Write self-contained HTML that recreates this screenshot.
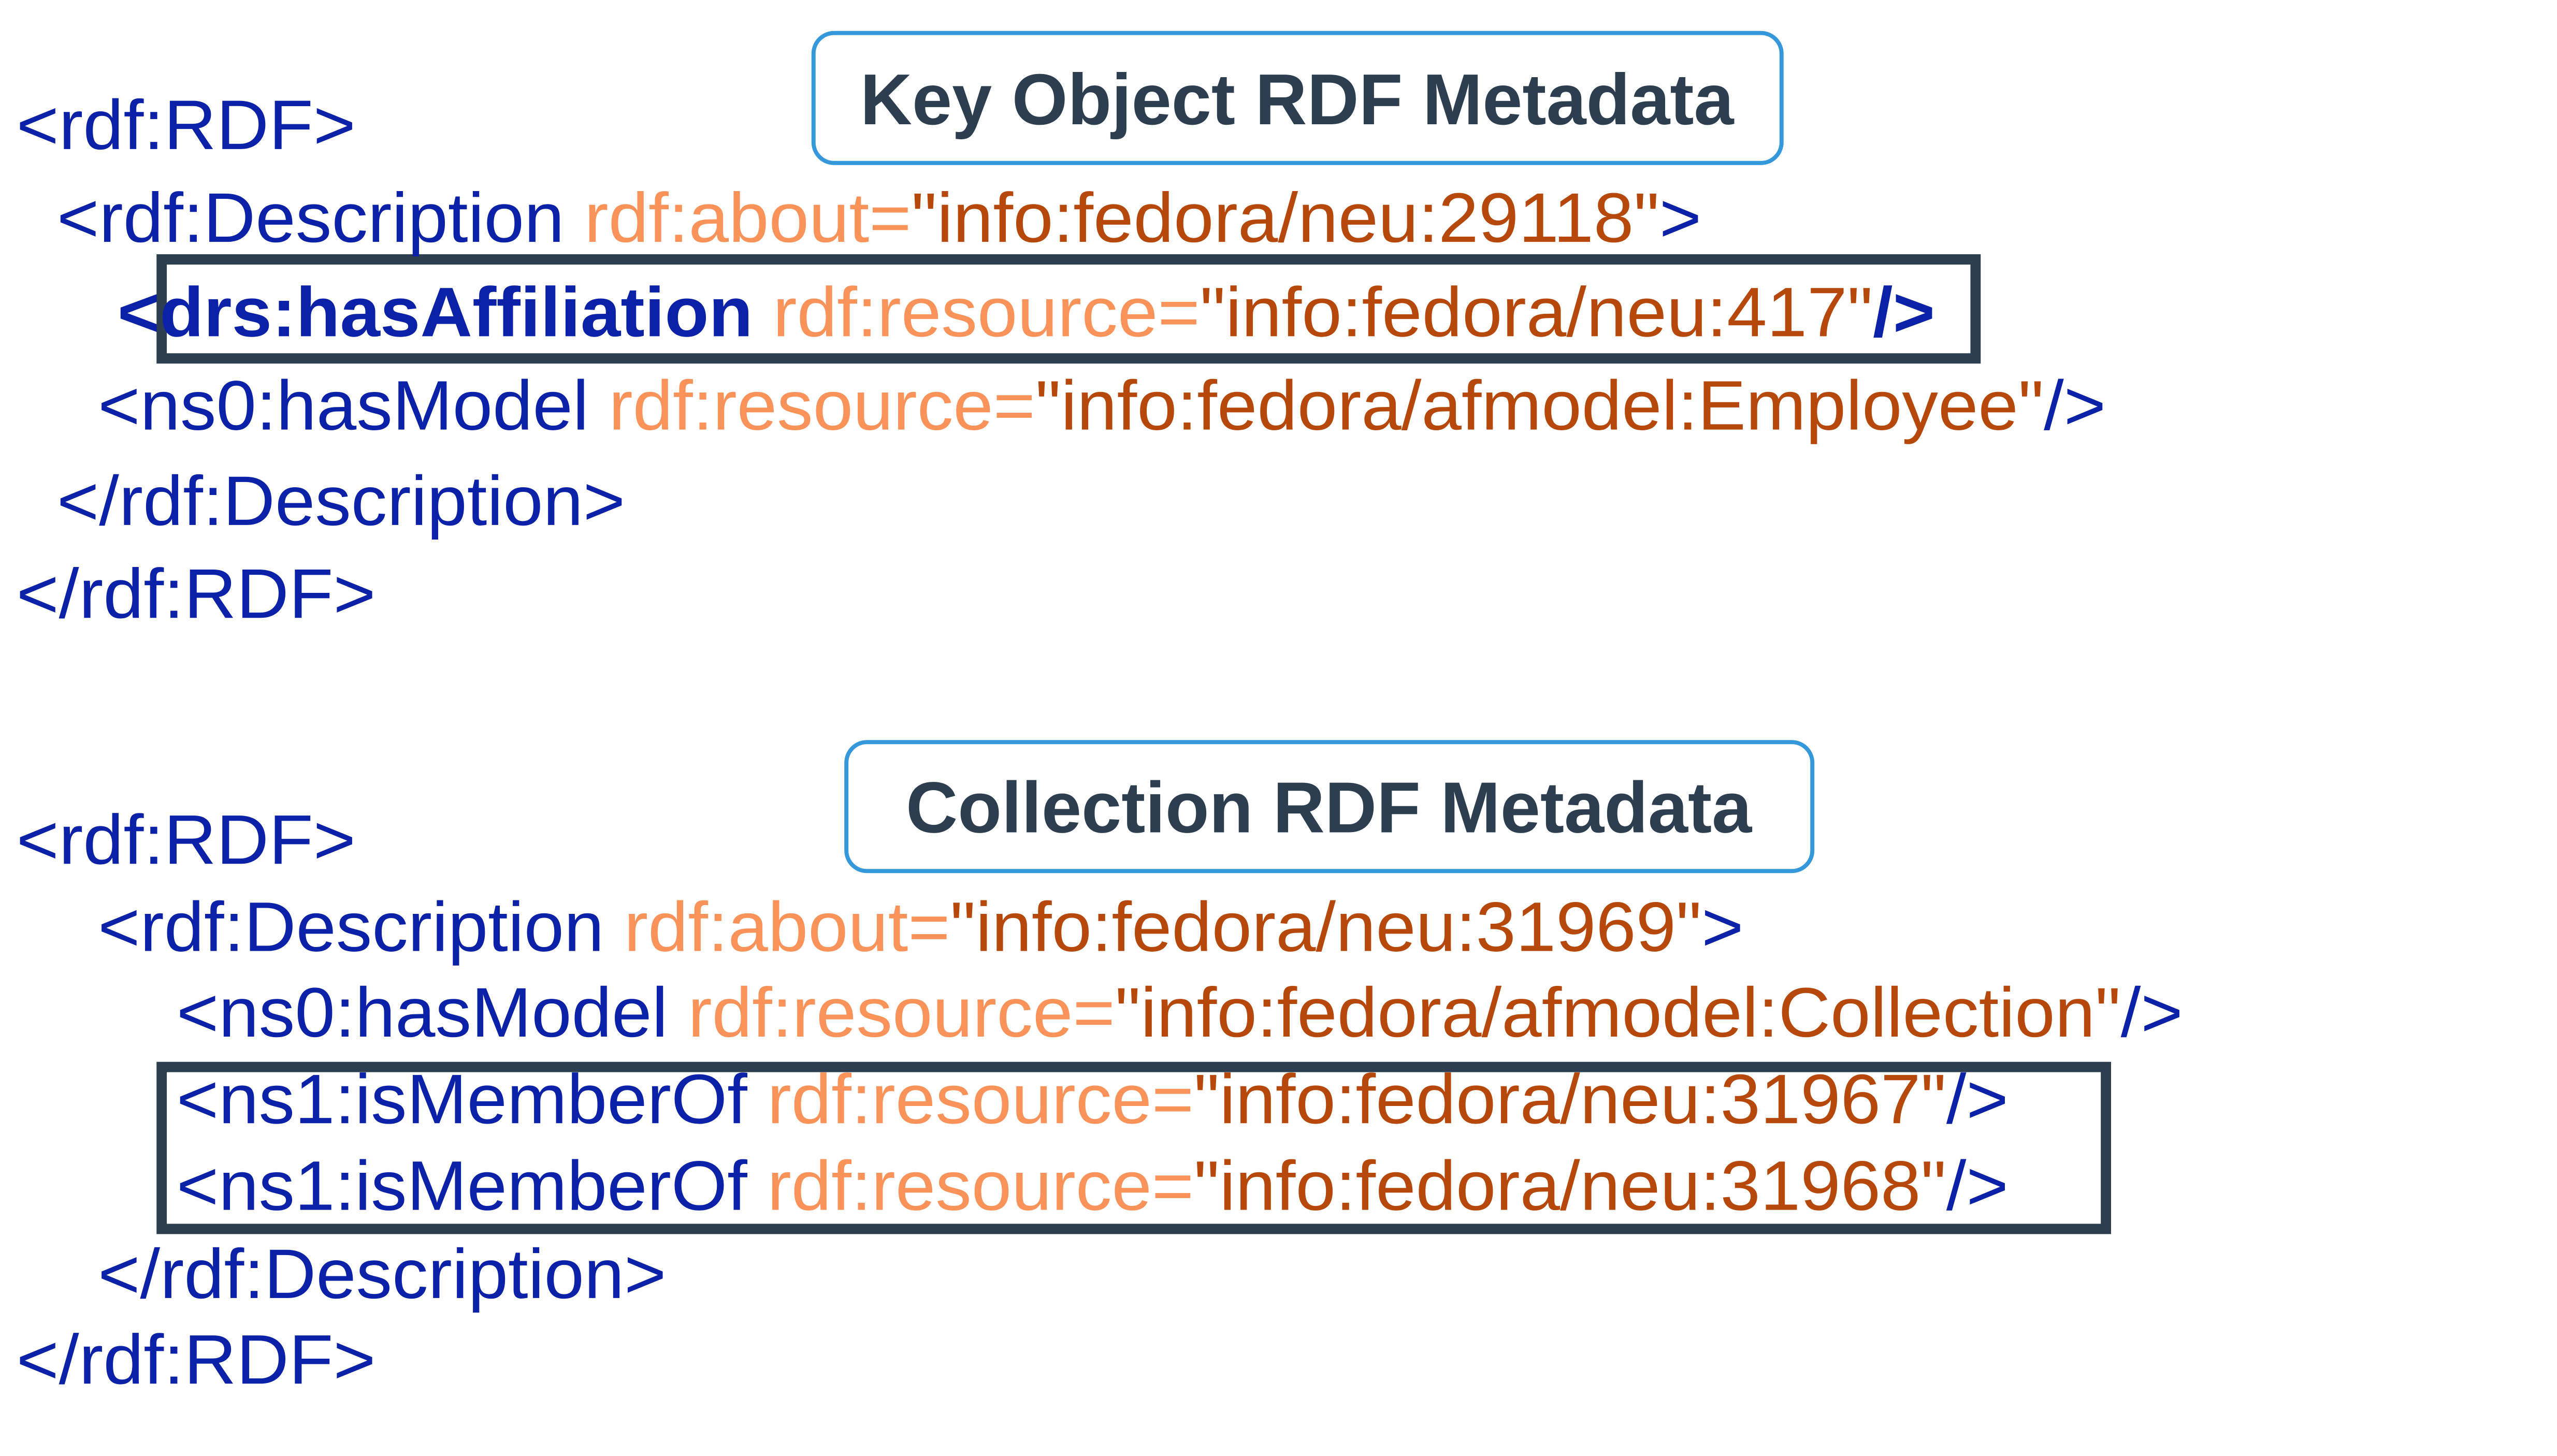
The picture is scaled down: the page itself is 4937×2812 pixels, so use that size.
<!DOCTYPE html>
<html><head><meta charset="utf-8"><style>
html,body{margin:0;padding:0;background:#fff;}
svg{display:block;}
text{font-family:"Liberation Sans",Arial,sans-serif;font-size:136px;}
.b{fill:#0b22a8}.o{fill:#f9935a}.r{fill:#b5480a}
.t{fill:#2c3e50;font-weight:bold;font-size:140px}
</style></head><body>
<svg width="4937" height="2812" viewBox="0 0 4937 2812" xmlns="http://www.w3.org/2000/svg">
<rect x="0" y="0" width="4937" height="2812" fill="#fff"/>
<g transform="scale(0.991,0.996)">
<rect x="1585" y="64" width="1886" height="252" rx="40" fill="#fff" stroke="#3498db" stroke-width="8"/>
<text class="t" x="1676" y="241" textLength="1702" lengthAdjust="spacingAndGlyphs">Key Object RDF Metadata</text>
<rect x="1649" y="1439" width="1882" height="250" rx="40" fill="#fff" stroke="#3498db" stroke-width="8"/>
<text class="t" x="1765" y="1614" textLength="1648" lengthAdjust="spacingAndGlyphs">Collection RDF Metadata</text>
<rect x="315" y="503" width="3534" height="192" fill="none" stroke="#2c3e50" stroke-width="20"/>
<rect x="315" y="2069" width="3788" height="314" fill="none" stroke="#2c3e50" stroke-width="20"/>
<text x="32" y="289" textLength="661" lengthAdjust="spacingAndGlyphs"><tspan class="b">&lt;rdf:RDF&gt;</tspan></text>
<text x="111" y="469" textLength="3204" lengthAdjust="spacingAndGlyphs"><tspan class="b">&lt;rdf:Description </tspan><tspan class="o">rdf:about=</tspan><tspan class="r">"info:fedora/neu:29118"</tspan><tspan class="b">&gt;</tspan></text>
<text x="229" y="652" textLength="3541" lengthAdjust="spacingAndGlyphs"><tspan class="b" font-weight="bold">&lt;drs:hasAffiliation </tspan><tspan class="o">rdf:resource=</tspan><tspan class="r">"info:fedora/neu:417"</tspan><tspan class="b" font-weight="bold">/&gt;</tspan></text>
<text x="191" y="833" textLength="3912" lengthAdjust="spacingAndGlyphs"><tspan class="b">&lt;ns0:hasModel </tspan><tspan class="o">rdf:resource=</tspan><tspan class="r">"info:fedora/afmodel:Employee"</tspan><tspan class="b">/&gt;</tspan></text>
<text x="111" y="1018" textLength="1107" lengthAdjust="spacingAndGlyphs"><tspan class="b">&lt;/rdf:Description&gt;</tspan></text>
<text x="32" y="1198" textLength="700" lengthAdjust="spacingAndGlyphs"><tspan class="b">&lt;/rdf:RDF&gt;</tspan></text>
<text x="32" y="1675" textLength="661" lengthAdjust="spacingAndGlyphs"><tspan class="b">&lt;rdf:RDF&gt;</tspan></text>
<text x="191" y="1844" textLength="3206" lengthAdjust="spacingAndGlyphs"><tspan class="b">&lt;rdf:Description </tspan><tspan class="o">rdf:about=</tspan><tspan class="r">"info:fedora/neu:31969"</tspan><tspan class="b">&gt;</tspan></text>
<text x="344" y="2010" textLength="3909" lengthAdjust="spacingAndGlyphs"><tspan class="b">&lt;ns0:hasModel </tspan><tspan class="o">rdf:resource=</tspan><tspan class="r">"info:fedora/afmodel:Collection"</tspan><tspan class="b">/&gt;</tspan></text>
<text x="344" y="2178" textLength="3569" lengthAdjust="spacingAndGlyphs"><tspan class="b">&lt;ns1:isMemberOf </tspan><tspan class="o">rdf:resource=</tspan><tspan class="r">"info:fedora/neu:31967"</tspan><tspan class="b">/&gt;</tspan></text>
<text x="344" y="2346" textLength="3569" lengthAdjust="spacingAndGlyphs"><tspan class="b">&lt;ns1:isMemberOf </tspan><tspan class="o">rdf:resource=</tspan><tspan class="r">"info:fedora/neu:31968"</tspan><tspan class="b">/&gt;</tspan></text>
<text x="191" y="2517" textLength="1107" lengthAdjust="spacingAndGlyphs"><tspan class="b">&lt;/rdf:Description&gt;</tspan></text>
<text x="32" y="2683" textLength="700" lengthAdjust="spacingAndGlyphs"><tspan class="b">&lt;/rdf:RDF&gt;</tspan></text>
</g>
</svg>
</body></html>
